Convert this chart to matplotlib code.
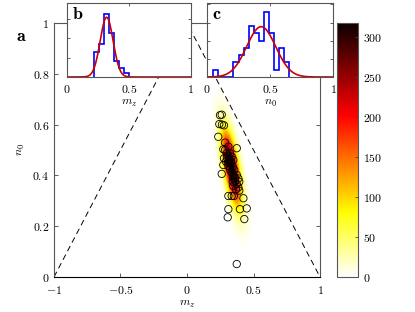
import numpy as np
import matplotlib
matplotlib.use("Agg")
import matplotlib.pyplot as plt
from matplotlib.ticker import FuncFormatter

plt.rcParams['mathtext.fontset'] = 'cm'
plt.rcParams['font.family'] = 'serif'
plt.rcParams['font.size'] = 8.5

# scatter points (m_z, n_0)
mz_pts = [0.261, 0.248, 0.243, 0.263, 0.278, 0.235, 0.286, 0.273, 0.311, 0.374, 0.261,
          0.286, 0.298, 0.323, 0.311, 0.336, 0.278, 0.318, 0.348, 0.293, 0.328, 0.273,
          0.311, 0.344, 0.323, 0.356, 0.336, 0.374, 0.348, 0.386, 0.361, 0.393, 0.344,
          0.374, 0.348, 0.386, 0.368, 0.393, 0.300, 0.330, 0.350, 0.360, 0.310,
          0.311, 0.336, 0.353, 0.424, 0.311, 0.398, 0.449, 0.306, 0.431, 0.374]
n0_pts = [0.639, 0.637, 0.602, 0.600, 0.597, 0.552, 0.529, 0.503, 0.513, 0.507, 0.406,
          0.500, 0.487, 0.487, 0.476, 0.474, 0.467, 0.463, 0.461, 0.454, 0.448, 0.441,
          0.437, 0.434, 0.424, 0.421, 0.411, 0.402, 0.392, 0.388, 0.379, 0.375, 0.375,
          0.366, 0.358, 0.353, 0.345, 0.340, 0.470, 0.455, 0.400, 0.390, 0.450,
          0.319, 0.319, 0.319, 0.310, 0.267, 0.267, 0.270, 0.235, 0.228, 0.051]

# density blob
dens_center = (0.33, 0.43)
dens_slope = -0.31      # dm_z / dn_0 along the ridge
dens_sig_n0 = 0.10
dens_sig_mz = 0.037
dens_peak = 318

# inset histograms
b_edges = [0.22, 0.26, 0.30, 0.34, 0.38, 0.42, 0.46, 0.50]
b_counts = [6.5, 8.6, 16.3, 11.4, 4.0, 2.3, 1.0]
b_mean, b_std = 0.32, 0.052
c_edges = [0.05, 0.09, 0.13, 0.17, 0.21, 0.25, 0.29, 0.33, 0.37, 0.41,
           0.45, 0.49, 0.53, 0.57, 0.61, 0.65]
c_counts = [1, 0, 0, 0, 2, 3, 4, 7, 6, 5, 9, 6, 1, 4, 2]
c_mean, c_std = 0.43, 0.115
n_total = 50
bin_w = 0.04

fmt = FuncFormatter(lambda v, p: r'$%g$' % v)

fig = plt.figure(figsize=(4.15, 3.12), dpi=100)
ax = fig.add_axes([0.1301, 0.1122, 0.641, 0.8141])

# density image
gx = np.linspace(-1, 1, 600)
gy = np.linspace(0, 1, 300)
X, Y = np.meshgrid(gx, gy)
dy = Y - dens_center[1]
dx = X - (dens_center[0] + dens_slope * dy)
Z = dens_peak * np.exp(-0.5 * (dy / dens_sig_n0) ** 2 - 0.5 * (dx / dens_sig_mz) ** 2)
im = ax.imshow(Z, extent=[-1, 1, 0, 1], origin='lower', cmap='hot_r',
               vmin=0, vmax=318, aspect='auto', interpolation='bilinear')

ax.plot([-1, 0, 1], [0, 1, 0], color='k', ls=(0, (6, 4)), lw=0.7)
ax.scatter(mz_pts, n0_pts, s=28, facecolors='none', edgecolors='k', linewidths=0.6, zorder=3)
ax.set_xlim(-1, 1)
ax.set_ylim(0, 1)
ax.set_xticks([-1, -0.5, 0, 0.5, 1])
ax.set_yticks([0, 0.2, 0.4, 0.6, 0.8, 1])
ax.xaxis.set_major_formatter(fmt)
ax.yaxis.set_major_formatter(fmt)
ax.tick_params(direction='in', top=True, right=True, length=3, width=0.6, colors='#444444',
               labelcolor='k')
ax.tick_params(axis='x', pad=5)
for s in ax.spines.values():
    s.set_color('#555555')
    s.set_linewidth(0.8)
ax.spines['bottom'].set_color('k')
ax.set_xlabel(r'$m_z$', labelpad=0)
ax.set_ylabel(r'$n_0$', labelpad=4)
fig.text(0.038, 0.87, r'$\mathbf{a}$', fontsize=13)

# colorbar
cax = fig.add_axes([0.812, 0.1122, 0.0506, 0.8141])
cb = fig.colorbar(im, cax=cax, ticks=[0, 50, 100, 150, 200, 250, 300])
cb.ax.yaxis.set_major_formatter(fmt)
cb.ax.tick_params(direction='in', length=2, width=0.6, colors='#444444', labelcolor='k')
cb.outline.set_edgecolor('#555555')
cb.outline.set_linewidth(0.8)


def inset(rect, edges, counts, mean, std, ymax, yt, xlabel, letter):
    a = fig.add_axes(rect)
    a.set_facecolor('white')
    a.stairs(counts, edges, color='#0000ff', lw=1.2, baseline=0)
    xs = np.linspace(0, 1, 400)
    g = n_total * bin_w / (np.sqrt(2 * np.pi) * std) * np.exp(-0.5 * ((xs - mean) / std) ** 2)
    a.plot(xs, g, color='#cc0000', lw=1.2)
    a.set_xlim(0, 1)
    a.set_ylim(0, ymax)
    a.set_xticks([0, 0.5, 1])
    a.xaxis.set_major_formatter(fmt)
    a.set_yticks(yt)
    a.set_yticklabels([])
    a.tick_params(direction='in', top=True, right=True, length=2.5, width=0.6,
                  colors='#444444', labelcolor='k', pad=4)
    for s in a.spines.values():
        s.set_color('#555555')
        s.set_linewidth(0.8)
    a.set_xlabel(xlabel, labelpad=0)
    a.text(0.04, 0.97, letter, transform=a.transAxes, fontsize=13, va='top', ha='left')
    return a


inset([0.1614, 0.7532, 0.2988, 0.2372], b_edges, b_counts, b_mean, b_std,
      19, [0, 5, 10, 15], r'$m_z$', r'$\mathbf{b}$')
inset([0.4988, 0.7532, 0.3036, 0.2372], c_edges, c_counts, c_mean, c_std,
      10.2, [0, 2.5, 5, 7.5, 10], r'$n_0$', r'$\mathbf{c}$')

fig.savefig('out.png', dpi=100)
